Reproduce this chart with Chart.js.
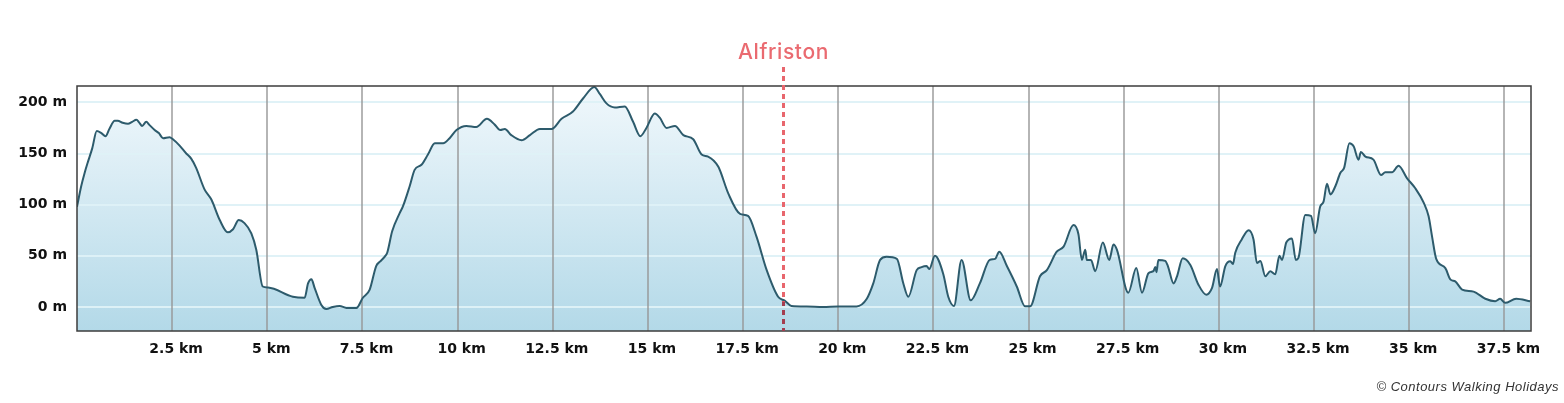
<!DOCTYPE html>
<html>
<head>
<meta charset="utf-8">
<title>Elevation profile</title>
<script src="https://cdn.jsdelivr.net/npm/chart.js@4/dist/chart.umd.min.js"></script>
<style>
    html, body { margin: 0; padding: 0; background: #fff; }
    #profile { display: block; }
</style>
</head>
<body>
<canvas id="profile" width="1564" height="403"></canvas>
<script>
// distance along the route (km) and elevation (m)
var distKm = [
    0, 0.11, 0.2, 0.28, 0.4, 0.52, 0.64, 0.75, 0.85, 0.99, 1.07, 1.2, 1.34, 1.45, 1.56, 1.64, 1.71, 1.82, 1.9,
    2.04, 2.15, 2.26, 2.43, 2.52, 2.69, 2.87, 3.0, 3.13, 3.35, 3.53, 3.75, 3.96, 4.1, 4.25, 4.4, 4.58, 4.71, 4.88,
    5.02, 5.67, 5.98, 6.07, 6.16, 6.24, 6.42, 6.55, 6.72, 6.9, 7.08, 7.34, 7.51, 7.69, 7.86, 7.95, 8.08, 8.15,
    8.28, 8.48, 8.56, 8.74, 8.87, 9.05, 9.22, 9.4, 9.62, 9.79, 9.97, 10.23, 10.49, 10.77, 10.98, 11.12, 11.24,
    11.41, 11.68, 11.9, 12.16, 12.47, 12.73, 13.03, 13.3, 13.59, 13.74, 13.91, 14.13, 14.39, 14.61, 14.8, 14.96,
    15.18, 15.31, 15.49, 15.71, 15.93, 16.19, 16.41, 16.58, 16.85, 17.11, 17.42, 17.63, 17.85, 18.12, 18.42,
    18.6, 18.77, 19.17, 19.6, 20.0, 20.48, 20.75, 20.92, 21.1, 21.27, 21.54, 21.71, 21.84, 22.06, 22.19, 22.32,
    22.39, 22.54, 22.76, 22.89, 23.04, 23.24, 23.48, 23.72, 23.98, 24.12, 24.23, 24.43, 24.69, 24.91, 25.04,
    25.3, 25.48, 25.74, 25.92, 26.18, 26.31, 26.4, 26.49, 26.53, 26.64, 26.75, 26.95, 27.12, 27.23, 27.32,
    27.62, 27.83, 27.98, 28.15, 28.28, 28.33, 28.36, 28.41, 28.59, 28.66, 28.81, 28.9, 29.05, 29.25, 29.46,
    29.67, 29.82, 29.95, 30.03, 30.17, 30.3, 30.37, 30.43, 30.6, 30.78, 30.91, 31.0, 31.09, 31.22, 31.35, 31.48,
    31.59, 31.66, 31.77, 31.92, 32.02, 32.09, 32.27, 32.42, 32.53, 32.66, 32.75, 32.84, 32.93, 33.06, 33.19,
    33.29, 33.43, 33.54, 33.67, 33.73, 33.85, 34.06, 34.26, 34.37, 34.55, 34.72, 34.94, 35.16, 35.38, 35.51,
    35.6, 35.71, 35.95, 36.08, 36.21, 36.39, 36.69, 37.0, 37.26, 37.39, 37.52, 37.81, 38.18
];
var elevM = [
    98, 118, 131, 141, 155, 172, 170, 167, 174, 182, 182, 180, 179, 181, 183, 180, 177, 181, 178,
    173, 170, 165, 166, 164, 158, 150, 145, 136, 115, 105, 85, 73, 76, 85, 82, 72, 56, 20,
    19, 10, 9, 23, 27, 19, 2, -2, 0, 1, -1, -1, 9, 17, 40, 44, 49, 53,
    74, 92, 98, 118, 134, 139, 149, 160, 160, 165, 173, 177, 176, 184, 178, 173, 174,
    168, 163, 168, 174, 174, 184, 191, 204, 215, 208, 199, 195, 196, 181, 167, 175,
    189, 185, 175, 177, 168, 164, 149, 147, 137, 111, 91, 89, 69, 36, 10,
    6, 1, 0.5, 0, 0.5, 0.5, 8, 23, 46, 49, 47, 23, 10, 36, 39, 40,
    37, 50, 32, 10, 1, 46, 6.5, 23, 46, 47, 54, 40, 20, 0.6, 0.6,
    30, 36, 54, 59, 80, 71, 46, 56, 46, 46, 35, 63, 46, 61, 56,
    14, 38, 14, 33, 35, 39, 34, 46, 45, 40, 23, 30, 47.5, 41, 22,
    12, 18.6, 37, 20, 40, 44.6, 42, 53, 66, 75, 66, 43, 45, 30, 35, 32,
    50, 46, 63, 67, 46, 48, 90, 89, 72, 98, 103, 120.5, 110, 118, 131,
    136, 160, 157, 144, 151.5, 147, 144, 129, 131.6, 131.6, 138, 126, 116, 102, 88.6,
    69, 47, 38, 27, 25, 17, 15, 8, 5.5, 8, 4, 8, 5.5
];

var xTicksKm = [2.5, 5, 7.5, 10, 12.5, 15, 17.5, 20, 22.5, 25, 27.5, 30, 32.5, 35, 37.5];
var yTicksM = [0, 50, 100, 150, 200];

var markerKm = [18.55];
var markerLabels = ['Alfriston'];

var creditText = '\u00A9 Contours Walking Holidays';

var profilePoints = distKm.map(function (km, i) {
    return { x: km, y: elevM[i] };
});

// elevation at a given distance, straight between the two nearest readings
var elevationAt = function (km) {
    for (var i = 1; i < distKm.length; i++) {
        if (distKm[i] >= km) {
            var t = (km - distKm[i - 1]) / (distKm[i] - distKm[i - 1]);
            return elevM[i - 1] + t * (elevM[i] - elevM[i - 1]);
        }
    }
    return elevM[elevM.length - 1];
};

var profileDecor = {
    id: 'profileDecor',
    beforeDatasetDraw: function (chart) {
        var ctx = chart.ctx;
        var area = chart.chartArea;
        var xScale = chart.scales.x;
        var yScale = chart.scales.y;

        ctx.save();
        ctx.lineWidth = 2;
        ctx.strokeStyle = 'rgba(222, 241, 247, 0.95)';
        yScale.ticks.forEach(function (tick) {
            var py = Math.round(yScale.getPixelForValue(tick.value));
            ctx.beginPath();
            ctx.moveTo(area.left, py);
            ctx.lineTo(area.right, py);
            ctx.stroke();
        });

        ctx.strokeStyle = 'rgba(150, 150, 150, 0.7)';
        xScale.ticks.forEach(function (tick) {
            var px = Math.round(xScale.getPixelForValue(tick.value));
            ctx.beginPath();
            ctx.moveTo(px, area.top);
            ctx.lineTo(px, area.bottom);
            ctx.stroke();
        });
        ctx.restore();
    },
    afterDatasetsDraw: function (chart) {
        var ctx = chart.ctx;
        var area = chart.chartArea;
        var xScale = chart.scales.x;
        var yScale = chart.scales.y;

        ctx.save();
        ctx.lineWidth = 1.5;
        ctx.strokeStyle = '#3c3c3c';
        ctx.strokeRect(area.left, area.top, area.right - area.left, area.bottom - area.top);

        markerKm.forEach(function (km, i) {
            var px = Math.round(xScale.getPixelForValue(km)) + 0.5;
            var groundY = yScale.getPixelForValue(elevationAt(km)) + 2;

            ctx.save();
            ctx.setLineDash([5, 4]);
            ctx.lineWidth = 3;
            ctx.strokeStyle = '#e8666d';
            ctx.beginPath();
            ctx.moveTo(px, 67);
            ctx.lineTo(px, area.bottom);
            ctx.stroke();

            // below the profile the dashes read darker
            ctx.beginPath();
            ctx.rect(px - 3, groundY, 6, area.bottom - groundY);
            ctx.clip();
            ctx.strokeStyle = '#a43d4f';
            ctx.beginPath();
            ctx.moveTo(px, 67);
            ctx.lineTo(px, area.bottom);
            ctx.stroke();
            ctx.restore();

            ctx.fillStyle = '#ea6a70';
            ctx.font = '500 21px Inter, "Noto Sans", sans-serif';
            ctx.letterSpacing = '0.6px';
            ctx.textAlign = 'center';
            ctx.textBaseline = 'alphabetic';
            ctx.fillText(markerLabels[i], px, 59);
        });

        ctx.fillStyle = '#333';
        ctx.font = 'italic 13px "Liberation Sans", sans-serif';
        ctx.letterSpacing = '0.5px';
        ctx.textAlign = 'right';
        ctx.textBaseline = 'alphabetic';
        ctx.fillText(creditText, chart.width - 5, 391);
        ctx.restore();
    }
};

var ctx = document.getElementById('profile').getContext('2d');

var profileChart = new Chart(ctx, {
    type: 'line',
    data: {
        datasets: [{
            data: profilePoints,
            borderColor: '#2d5b6c',
            borderWidth: 2,
            pointRadius: 0,
            cubicInterpolationMode: 'monotone',
            fill: 'start',
            backgroundColor: function (context) {
                var area = context.chart.chartArea;
                if (!area) {
                    return 'rgba(180, 218, 232, 1)';
                }
                var gradient = context.chart.ctx.createLinearGradient(0, area.top, 0, area.bottom);
                gradient.addColorStop(0, '#f1f8fc');
                gradient.addColorStop(1, '#b3d9e8');
                return gradient;
            }
        }]
    },
    options: {
        responsive: false,
        animation: false,
        layout: {
            padding: { top: 86, right: 33, bottom: 0, left: 0 }
        },
        plugins: {
            legend: { display: false },
            tooltip: { enabled: false }
        },
        scales: {
            x: {
                type: 'linear',
                min: 0,
                max: 38.2,
                grid: { display: false, drawTicks: false },
                border: { display: false },
                afterBuildTicks: function (scale) {
                    scale.ticks = xTicksKm.map(function (v) { return { value: v }; });
                },
                afterFit: function (scale) {
                    scale.height = 72;
                },
                ticks: {
                    padding: 10,
                    labelOffset: 4,
                    maxRotation: 0,
                    autoSkip: false,
                    color: '#111',
                    font: { family: '"DejaVu Sans", sans-serif', size: 14, weight: 'bold' },
                    callback: function (value) {
                        return value + ' km';
                    }
                }
            },
            y: {
                min: -23.5,
                max: 216,
                grid: { display: false, drawTicks: false },
                border: { display: false },
                afterBuildTicks: function (scale) {
                    scale.ticks = yTicksM.map(function (v) { return { value: v }; });
                },
                afterFit: function (scale) {
                    scale.width = 77;
                },
                ticks: {
                    padding: 10,
                    color: '#111',
                    font: { family: '"DejaVu Sans", sans-serif', size: 14, weight: 'bold' },
                    callback: function (value) {
                        return value + ' m';
                    }
                }
            }
        }
    },
    plugins: [profileDecor]
});
</script>
</body>
</html>
